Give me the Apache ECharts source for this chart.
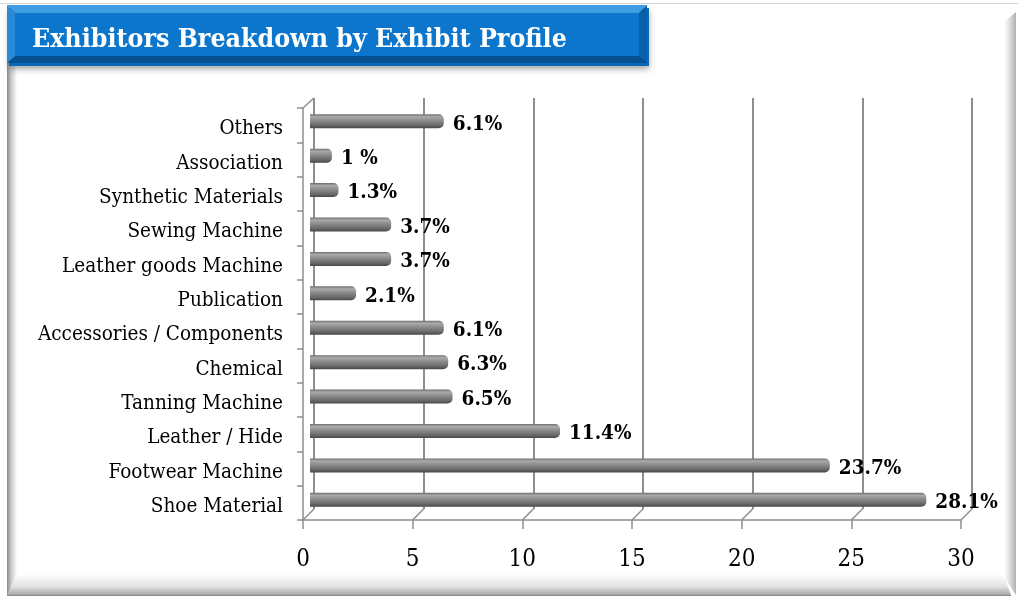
<!DOCTYPE html>
<html>
<head>
<meta charset="utf-8">
<script src="https://cdn.jsdelivr.net/npm/echarts@6/dist/echarts.min.js"></script>
<style>
  html, body { margin: 0; padding: 0; background: #fff; }
  #chart { width: 1018px; height: 597px; }
</style>
</head>
<body>
<div id="chart"></div>
<script>
// bottom to top
const categories = ['Shoe Material', 'Footwear Machine', 'Leather / Hide', 'Tanning Machine',
  'Chemical', 'Accessories / Components', 'Publication', 'Leather goods Machine',
  'Sewing Machine', 'Synthetic Materials', 'Association', 'Others'];
const values = [28.1, 23.7, 11.4, 6.5, 6.3, 6.1, 2.1, 3.7, 3.7, 1.3, 1, 6.1];
const valueLabels = ['28.1%', '23.7%', '11.4%', '6.5%', '6.3%', '6.1%', '2.1%', '3.7%',
  '3.7%', '1.3%', '1 %', '6.1%'];
const xTicks = [0, 5, 10, 15, 20, 25, 30];

const serif = '"DejaVu Serif Condensed", "Liberation Serif", serif';
const lineGray = '#8e8e8e';

const chart = echarts.init(document.getElementById('chart'));

const barColor = new echarts.graphic.LinearGradient(0, 0, 0, 1, [
  { offset: 0, color: '#6c6c6c' },
  { offset: 0.18, color: '#aaaaaa' },
  { offset: 0.45, color: '#8c8c8c' },
  { offset: 0.8, color: '#686868' },
  { offset: 1, color: '#474747' }
]);

const option = {
  backgroundColor: '#fff',
  animation: false,
  title: {
    text: 'Exhibitors Breakdown by Exhibit Profile',
    left: 27,
    top: 22,
    textStyle: { color: '#fff', fontFamily: serif, fontWeight: 'bold', fontSize: 26.5 }
  },
  graphic: [
    // frame bevels
    { type: 'rect', z: -10, shape: { x: 0, y: 3, width: 1018, height: 1 }, style: { fill: '#d4d4d4' } },
    { type: 'rect', z: -10, shape: { x: 7, y: 55, width: 10, height: 540 },
      style: { fill: new echarts.graphic.LinearGradient(0, 0, 1, 0, [
        { offset: 0, color: '#8a8a8a' }, { offset: 0.4, color: '#c8c8c8' }, { offset: 1, color: '#ffffff' }]) } },
    { type: 'polygon', z: -9, shape: { points: [[7, 595], [1011, 595], [1003, 574], [17, 574]] },
      style: { fill: new echarts.graphic.LinearGradient(0, 0, 0, 1, [
        { offset: 0, color: '#ffffff' }, { offset: 0.6, color: '#e2e2e2' }, { offset: 1, color: '#a6a6a6' }]) } },
    { type: 'polygon', z: -9, shape: { points: [[1004, 22], [1016, 12], [1016, 595], [1004, 577]] },
      style: { fill: new echarts.graphic.LinearGradient(0, 0, 1, 0, [
        { offset: 0, color: '#ffffff' }, { offset: 0.5, color: '#dcdcdc' }, { offset: 1, color: '#b0b0b0' }]) } },
    { type: 'rect', z: -9, shape: { x: 7, y: 595, width: 1004, height: 1 }, style: { fill: '#8c8c8c' } },
    // title banner
    { type: 'rect', z: -5, shape: { x: 9, y: 8, width: 640, height: 58 },
      style: { fill: '#0a68b8', shadowBlur: 6, shadowOffsetY: 3, shadowColor: 'rgba(0,0,0,0.35)' } },
    { type: 'polygon', z: -4, shape: { points: [[7, 5], [647, 5], [639, 13], [15, 13]] }, style: { fill: '#3f9ee3' } },
    { type: 'polygon', z: -4, shape: { points: [[7, 63], [647, 63], [639, 56], [15, 56]] }, style: { fill: '#07508f' } },
    { type: 'rect', z: -4, shape: { x: 15, y: 13, width: 624, height: 43 }, style: { fill: '#0b76cc' } },
    { type: 'polygon', z: -4, shape: { points: [[7, 5], [15, 13], [15, 56], [7, 63]] }, style: { fill: '#2a8ad6' } },
    { type: 'polygon', z: -4, shape: { points: [[647, 5], [647, 63], [639, 56], [639, 13]] }, style: { fill: '#0960aa' } }
  ],
  grid: [
    // front wall: axes, ticks, labels
    { left: 303, right: 57, top: 108, bottom: 77 },
    // mid depth: bars
    { left: 310, right: 50, top: 104, bottom: 80 },
    // back wall: vertical grid lines
    { left: 314, right: 46, top: 98, bottom: 88 }
  ],
  xAxis: [
    {
      gridIndex: 0, type: 'value', min: 0, max: 30, interval: 5,
      axisLine: { show: true, lineStyle: { color: lineGray, width: 1.5 } },
      axisTick: { show: true, length: 9, lineStyle: { color: lineGray, width: 1.5 } },
      splitLine: { show: false },
      axisLabel: { margin: 28, color: '#000', fontFamily: serif, fontSize: 24 }
    },
    { gridIndex: 1, type: 'value', min: 0, max: 30, show: false },
    {
      gridIndex: 2, type: 'value', min: 0, max: 30, interval: 5,
      axisLine: { show: false }, axisTick: { show: false }, axisLabel: { show: false },
      splitLine: { show: true, lineStyle: { color: lineGray, width: 2 } }
    }
  ],
  yAxis: [
    {
      gridIndex: 0, type: 'category', data: categories,
      axisLine: { show: true, lineStyle: { color: lineGray, width: 1.5 } },
      axisTick: { show: true, length: 6, lineStyle: { color: lineGray, width: 1.5 } },
      axisLabel: {
        margin: 20,
        formatter: v => '{c|' + v + '}',
        rich: { c: { color: '#000', fontFamily: serif, fontSize: 20.5, padding: [8, 0, 0, 0] } }
      }
    },
    { gridIndex: 1, type: 'category', data: categories, show: false },
    { gridIndex: 2, type: 'category', data: categories, show: false }
  ],
  series: [
    {
      type: 'custom',
      xAxisIndex: 0, yAxisIndex: 0,
      data: xTicks,
      clip: false,
      silent: true,
      renderItem: (params, api) => {
        const cs = params.coordSys;
        const x = api.coord([api.value(0), 0])[0];
        const bottom = cs.y + cs.height;
        const style = { stroke: lineGray, lineWidth: 1.5 };
        const children = [{ type: 'line', shape: { x1: x, y1: bottom, x2: x + 11, y2: bottom - 11 }, style }];
        if (api.value(0) === 0) {
          children.push({ type: 'line', shape: { x1: x, y1: cs.y, x2: x + 11, y2: cs.y - 10 }, style });
        }
        return { type: 'group', children };
      }
    },
    {
      type: 'bar',
      xAxisIndex: 1, yAxisIndex: 1,
      data: values,
      barWidth: 14,
      itemStyle: { color: barColor, borderRadius: [0, 5, 5, 0] },
      label: {
        show: true, position: 'right', distance: 9, offset: [0, 3],
        formatter: p => valueLabels[p.dataIndex],
        color: '#000', fontFamily: serif, fontWeight: 'bold', fontSize: 20.5
      }
    }
  ]
};

chart.setOption(option);
</script>
</body>
</html>
